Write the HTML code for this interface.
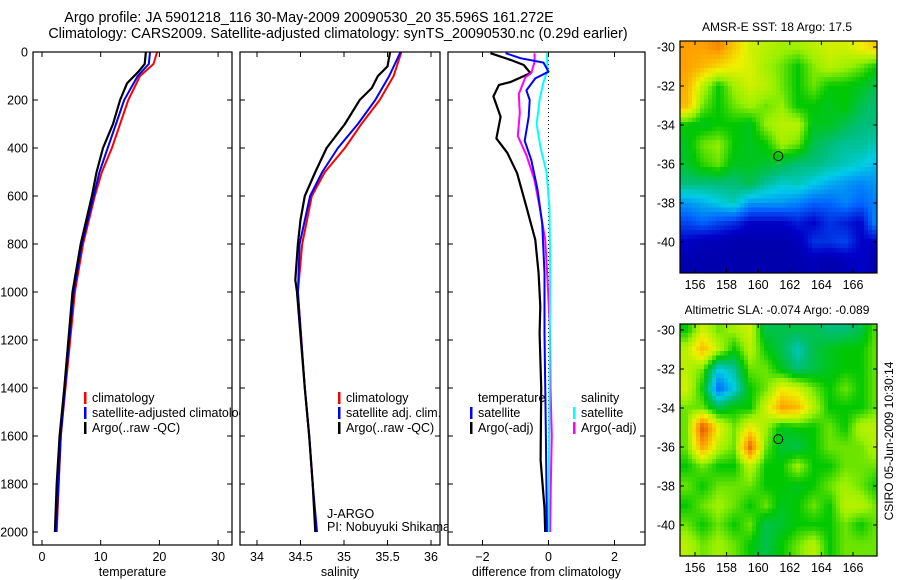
<!DOCTYPE html>
<html><head><meta charset="utf-8">
<style>
html,body{margin:0;padding:0;background:#fff;}
svg{display:block;font-family:"Liberation Sans",sans-serif;}
</style></head>
<body>
<svg id="fig" width="900" height="580" viewBox="0 0 900 580">
<text x="309" y="22" font-size="14.3" text-anchor="middle">Argo profile: JA 5901218_116 30-May-2009 20090530_20 35.596S 161.272E</text>
<text x="338" y="38" font-size="14.3" text-anchor="middle">Climatology: CARS2009. Satellite-adjusted climatology: synTS_20090530.nc (0.29d earlier)</text>
<g id="g"></g>
</svg>
<script>
// ---- profile data ----
const depthT = [0,50,100,200,300,400,500,600,800,1000,1400,1600,2000];
const tempClim = [19.6,19.0,16.7,14.7,13.3,11.9,10.2,9.0,7.0,5.6,4.0,3.2,2.5];
const tempSat = [18.4,18.2,16.3,14.0,12.6,11.2,9.8,8.8,6.8,5.4,3.9,3.2,2.4];
const depthA = [0,50,80,130,200,300,400,500,600,800,1000,1400,1600,1800,2000];
const tempArgo = [17.7,17.5,16.5,14.5,13.3,12.1,10.4,9.3,8.5,6.6,5.2,3.8,3.0,2.5,2.2];
const depthS = [0,100,200,300,400,500,600,800,1000,1400,1600,1800,2000];
const salClim = [35.66,35.57,35.41,35.2,35.01,34.78,34.63,34.52,34.47,34.55,34.6,34.64,34.68];
const salSat = [35.65,35.52,35.36,35.16,34.93,34.75,34.61,34.49,34.47,34.55,34.6,34.64,34.69];
const depthSA = [0,60,100,150,200,300,400,500,600,700,800,950,1000,1400,1600,1800,2000];
const salArgo = [35.53,35.5,35.39,35.32,35.18,35.01,34.8,34.67,34.55,34.5,34.47,34.44,34.46,34.55,34.6,34.64,34.67];
const depthD1 = [5,33,54,88,125,137,185,270,360,420,505,645,783,922,1060,1172,1400,1700,1900,2000];
const diffTArgo = [-1.76,-1.15,-0.75,-0.55,-1.15,-1.5,-1.67,-1.45,-1.58,-1.25,-0.95,-0.67,-0.4,-0.3,-0.25,-0.27,-0.22,-0.24,-0.12,-0.1];
const depthD2 = [5,26,44,82,110,160,200,270,370,450,575,715,922,1172,1600,2000];
const diffTSat = [-1.3,-0.85,-0.15,0,-0.4,-0.67,-0.57,-0.6,-0.72,-0.52,-0.33,-0.19,-0.12,-0.12,-0.08,-0.05];
const depthD3 = [5,40,88,105,175,255,350,430,530,645,783,922,1172,1400,1600,1800,2000];
const diffSArgo = [-0.42,-0.42,-0.52,-0.7,-0.9,-0.87,-0.93,-0.67,-0.43,-0.27,-0.1,-0.04,0.05,0.06,0.1,0.07,0.05];
const depthD4 = [5,75,130,200,300,400,500,650,880,1200,1600,2000];
const diffSSat = [-0.05,-0.03,-0.16,-0.27,-0.36,-0.24,-0.06,0.03,0.05,0.04,0.02,0.0];
const depthTicks = [0,200,400,600,800,1000,1200,1400,1600,1800,2000];
const tTicks = [0,10,20,30];
const sTicks = [34,34.5,35,35.5,36];
const dTicks = [-2,0,2];
// ---- map data (rows lat -30..-41, cols lon 155.5..167.3) ----
const mapLats = [-30,-31,-32,-33,-34,-35,-36,-37,-38,-39,-40,-41];
const mapLons = [155.5,156.5,157.5,158.5,159.5,160.5,161.5,162.5,163.5,164.5,165.5,166.5,167.3];
const sstGrid = [
[0.75,0.75,0.78,0.7,0.62,0.6,0.58,0.58,0.6,0.62,0.62,0.65,0.7],
[0.75,0.72,0.68,0.65,0.63,0.58,0.55,0.5,0.56,0.6,0.58,0.55,0.5],
[0.73,0.6,0.5,0.58,0.62,0.6,0.55,0.5,0.55,0.5,0.5,0.48,0.45],
[0.72,0.55,0.5,0.55,0.58,0.55,0.57,0.5,0.5,0.48,0.5,0.45,0.42],
[0.5,0.48,0.5,0.5,0.48,0.57,0.6,0.6,0.48,0.48,0.45,0.42,0.42],
[0.48,0.55,0.57,0.5,0.48,0.5,0.58,0.55,0.45,0.42,0.4,0.4,0.38],
[0.47,0.52,0.55,0.48,0.48,0.47,0.45,0.42,0.42,0.4,0.38,0.36,0.33],
[0.42,0.42,0.42,0.42,0.45,0.4,0.37,0.38,0.35,0.32,0.3,0.28,0.3],
[0.3,0.32,0.35,0.38,0.3,0.3,0.3,0.28,0.25,0.25,0.28,0.25,0.28],
[0.22,0.25,0.22,0.2,0.15,0.15,0.15,0.18,0.15,0.2,0.18,0.15,0.3],
[0.15,0.12,0.12,0.1,0.1,0.1,0.1,0.12,0.2,0.2,0.22,0.15,0.15],
[0.1,0.1,0.1,0.1,0.1,0.1,0.1,0.1,0.12,0.1,0.12,0.15,0.1]];
const slaGrid = [
[0.5,0.62,0.55,0.58,0.62,0.45,0.45,0.45,0.45,0.42,0.42,0.45,0.55],
[0.6,0.72,0.6,0.5,0.6,0.5,0.45,0.38,0.45,0.48,0.5,0.5,0.55],
[0.6,0.55,0.35,0.4,0.55,0.55,0.48,0.42,0.45,0.48,0.5,0.5,0.55],
[0.62,0.5,0.25,0.35,0.5,0.55,0.65,0.62,0.55,0.5,0.55,0.5,0.55],
[0.55,0.55,0.45,0.5,0.5,0.62,0.75,0.72,0.6,0.5,0.5,0.5,0.55],
[0.55,0.85,0.65,0.55,0.65,0.58,0.48,0.5,0.5,0.55,0.5,0.6,0.6],
[0.55,0.75,0.6,0.55,0.82,0.55,0.47,0.45,0.5,0.55,0.55,0.55,0.6],
[0.5,0.55,0.5,0.5,0.6,0.5,0.5,0.58,0.5,0.5,0.55,0.55,0.55],
[0.55,0.5,0.55,0.55,0.55,0.5,0.5,0.48,0.5,0.55,0.58,0.55,0.5],
[0.5,0.55,0.58,0.55,0.5,0.55,0.48,0.5,0.55,0.5,0.6,0.6,0.55],
[0.55,0.5,0.55,0.5,0.55,0.45,0.47,0.5,0.5,0.5,0.55,0.5,0.55],
[0.6,0.55,0.58,0.55,0.5,0.45,0.5,0.55,0.6,0.5,0.55,0.55,0.55]];
const latTicks = [-30,-32,-34,-36,-38,-40];
const lonTicks = [156,158,160,162,164,166];
const floatLon = 161.272, floatLat = -35.596;

const NS = 'http://www.w3.org/2000/svg';
const G = document.getElementById('g');
function mk(tag, attrs, parent) {
  const e = document.createElementNS(NS, tag);
  for (const k in attrs) e.setAttribute(k, attrs[k]);
  (parent || G).appendChild(e);
  return e;
}
function txt(x, y, s, size, anchor, parent) {
  const t = mk('text', {x: x, y: y, 'font-size': size, 'text-anchor': anchor || 'start'}, parent);
  t.textContent = s;
  return t;
}
const yTop = 52, yScale = 0.24, yBot = 545;
const yD = d => yTop + d * yScale;

function panel(name, x0, x1, f, xticks, xlabel, fmt) {
  const g = mk('g', {});
  
  
  const bg = mk('rect', {x: x0, y: yTop, width: x1 - x0, height: yBot - yTop, fill: '#fff'}, g);
  
  
  xticks.forEach(v => {
    const x = f(v);
    mk('line', {x1: x, x2: x, y1: yBot, y2: yBot - 5, stroke: '#000'}, g);
    mk('line', {x1: x, x2: x, y1: yTop, y2: yTop + 5, stroke: '#000'}, g);
    const t = txt(x, 561, fmt ? fmt(v) : String(v), 12.5, 'middle', g);
    
    
  });
  depthTicks.forEach(d => {
    mk('line', {x1: x0, x2: x0 + 5, y1: yD(d), y2: yD(d), stroke: '#000'}, g);
    mk('line', {x1: x1, x2: x1 - 5, y1: yD(d), y2: yD(d), stroke: '#000'}, g);
  });
  const t = txt((x0 + x1) / 2, 576, xlabel, 12.5, 'middle', g);
  
  
  return g;
}
function line(g, f, xs, ds, color, w, name) {
  const pts = xs.map((v, i) => f(v).toFixed(1) + ',' + yD(ds[i]).toFixed(1)).join(' ');
  const p = mk('polyline', {points: pts, fill: 'none', stroke: color, 'stroke-width': w, 'stroke-linejoin': 'round'}, g);
  
  
}
function border(g, x0, x1) {
  mk('rect', {x: x0, y: yTop, width: x1 - x0, height: yBot - yTop, fill: 'none', stroke: '#000', 'stroke-width': 1.2}, g);
}
function legend(g, x, y, items) {
  items.forEach((it, i) => {
    if (it[0]) {
      const r = mk('rect', {x: x, y: y + i * 15 - 10, width: 2.5, height: 12, fill: it[0]}, g);
      
      
    }
    const t = txt(x + 8, y + i * 15, it[1], 12.5, 'start', g);
    
    
  });
}

depthTicks.forEach(d => {
  const t = txt(28, yD(d) + 4.5, String(d), 12.5, 'end');
  
  
});

const fT = v => 42 + v * 5.87;
const p1 = panel('temperature-panel', 33, 232, fT, tTicks, 'temperature');
line(p1, fT, tempClim, depthT, '#f00', 2, 'climatology-temperature-line');
line(p1, fT, tempSat, depthT, '#00f', 2, 'satellite-temperature-line');
line(p1, fT, tempArgo, depthA, '#000', 2.2, 'argo-temperature-line');
legend(p1, 84, 402, [['#f00','climatology'],['#00f','satellite-adjusted climatology'],['#000','Argo(..raw -QC)']]);
border(p1, 33, 232);

const fS = v => 257 + (v - 34) * 87;
const p2 = panel('salinity-panel', 240, 440, fS, sTicks, 'salinity');
line(p2, fS, salClim, depthS, '#f00', 2, 'climatology-salinity-line');
line(p2, fS, salSat, depthS, '#00f', 2, 'satellite-salinity-line');
line(p2, fS, salArgo, depthSA, '#000', 2.2, 'argo-salinity-line');
legend(p2, 338, 402, [['#f00','climatology'],['#00f','satellite adj. clim.'],['#000','Argo(..raw -QC)']]);
const j1 = txt(327, 518, 'J-ARGO', 12.5, 'start', p2);


const j2 = txt(327, 531, 'PI: Nobuyuki Shikama', 12.5, 'start', p2);


border(p2, 240, 440);

const fD = v => 548.5 + v * 33;
const p3 = panel('difference-panel', 448, 645, fD, dTicks, 'difference from climatology', v => v < 0 ? '\u2212' + (-v) : String(v));
const zl = mk('line', {x1: fD(0), x2: fD(0), y1: yTop, y2: yD(2000), stroke: '#000', 'stroke-dasharray': '1,3'}, p3);


line(p3, fD, diffTArgo, depthD1, '#000', 2.2, 'argo-temperature-diff-line');
line(p3, fD, diffSArgo, depthD3, '#f0f', 2, 'argo-salinity-diff-line');
line(p3, fD, diffSSat, depthD4, '#0ff', 2, 'satellite-salinity-diff-line');
line(p3, fD, diffTSat, depthD2, '#00f', 2, 'satellite-temperature-diff-line');
legend(p3, 470, 402, [[null,'temperature'],['#00f','satellite'],['#000','Argo(-adj)']]);
legend(p3, 573, 402, [[null,'salinity'],['#0ff','satellite'],['#f0f','Argo(-adj)']]);
border(p3, 448, 645);

// ---- maps ----
const cmapStops = [[0,[0,0,120]],[0.15,[0,0,200]],[0.25,[0,100,255]],[0.35,[0,205,230]],[0.42,[0,190,120]],[0.5,[0,200,0]],[0.57,[150,240,0]],[0.65,[240,240,0]],[0.75,[255,160,0]],[0.85,[220,80,0]],[1,[150,0,0]]];
function cmap(v) {
  v = Math.max(0, Math.min(1, v));
  for (let i = 1; i < cmapStops.length; i++) {
    const a = cmapStops[i - 1], b = cmapStops[i];
    if (v <= b[0]) {
      const t = (v - a[0]) / (b[0] - a[0]);
      const c = a[1].map((x, k) => Math.round(x + (b[1][k] - x) * t));
      return 'rgb(' + c.join(',') + ')';
    }
  }
  return 'rgb(150,0,0)';
}
function sample(grid, fi, fj) {
  const R = grid.length, C = grid[0].length;
  fi = Math.max(0, Math.min(R - 1, fi)); fj = Math.max(0, Math.min(C - 1, fj));
  const i0 = Math.floor(fi), j0 = Math.floor(fj);
  const i1 = Math.min(R - 1, i0 + 1), j1 = Math.min(C - 1, j0 + 1);
  const ti = fi - i0, tj = fj - j0;
  return (grid[i0][j0] * (1 - tj) + grid[i0][j1] * tj) * (1 - ti) + (grid[i1][j0] * (1 - tj) + grid[i1][j1] * tj) * ti;
}
function map(name, y0, grid, title) {
  const x0 = 680, x1 = 877, h = 232;
  const fx = lon => 695 + (lon - 156) * 15.8;
  const fy = lat => (y0 + 6) + (-30 - lat) * 19.5;
  const g = mk('g', {});
  
  
  const cp = mk('clipPath', {id: name + '-clip'}, g);
  mk('rect', {x: x0, y: y0, width: x1 - x0, height: h}, cp);
  const cg = mk('g', {'clip-path': 'url(#' + name + '-clip)'}, g);
  const cw = 4, ch = 4.5;
  for (let y = y0; y < y0 + h; y += ch) {
    for (let x = x0; x < x1; x += cw) {
      const lon = 156 + (x + cw / 2 - 695) / 15.8;
      const lat = -30 - (y + ch / 2 - (y0 + 6)) / 19.5;
      const fi = (-30 - lat);
      const fj = (lon - 155.5);
      const c = mk('rect', {x: x, y: y.toFixed(1), width: cw + 0.3, height: ch + 0.3, fill: cmap(sample(grid, fi, fj))}, cg);
      
      
    }
  }
  const m = mk('circle', {cx: fx(floatLon), cy: fy(floatLat), r: 4.5, fill: 'none', stroke: '#000', 'stroke-width': 1}, g);
  
  
  mk('rect', {x: x0, y: y0, width: x1 - x0, height: h, fill: 'none', stroke: '#000', 'stroke-width': 1.2}, g);
  latTicks.forEach(l => {
    const y = fy(l);
    mk('line', {x1: x0, x2: x0 + 4, y1: y, y2: y, stroke: '#000'}, g);
    mk('line', {x1: x1, x2: x1 - 4, y1: y, y2: y, stroke: '#000'}, g);
    const t = txt(675, y + 4.5, '-' + (-l), 12.5, 'end', g);
    
    
  });
  lonTicks.forEach(l => {
    const x = fx(l);
    mk('line', {x1: x, x2: x, y1: y0, y2: y0 + 4, stroke: '#000'}, g);
    mk('line', {x1: x, x2: x, y1: y0 + h, y2: y0 + h - 4, stroke: '#000'}, g);
    const t = txt(x, y0 + h + 16, String(l), 12.5, 'middle', g);
    
    
  });
  const t = txt(777, y0 - 10, title, 12, 'middle', g);
  
  
}
map('sst-map', 41, sstGrid, 'AMSR-E SST: 18 Argo: 17.5');
map('sla-map', 324, slaGrid, 'Altimetric SLA: -0.074 Argo: -0.089');
const cs = txt(0, 0, 'CSIRO 05-Jun-2009 10:30:14', 12, 'middle');
cs.setAttribute('transform', 'translate(893,441) rotate(-90)');


</script>
</body></html>
